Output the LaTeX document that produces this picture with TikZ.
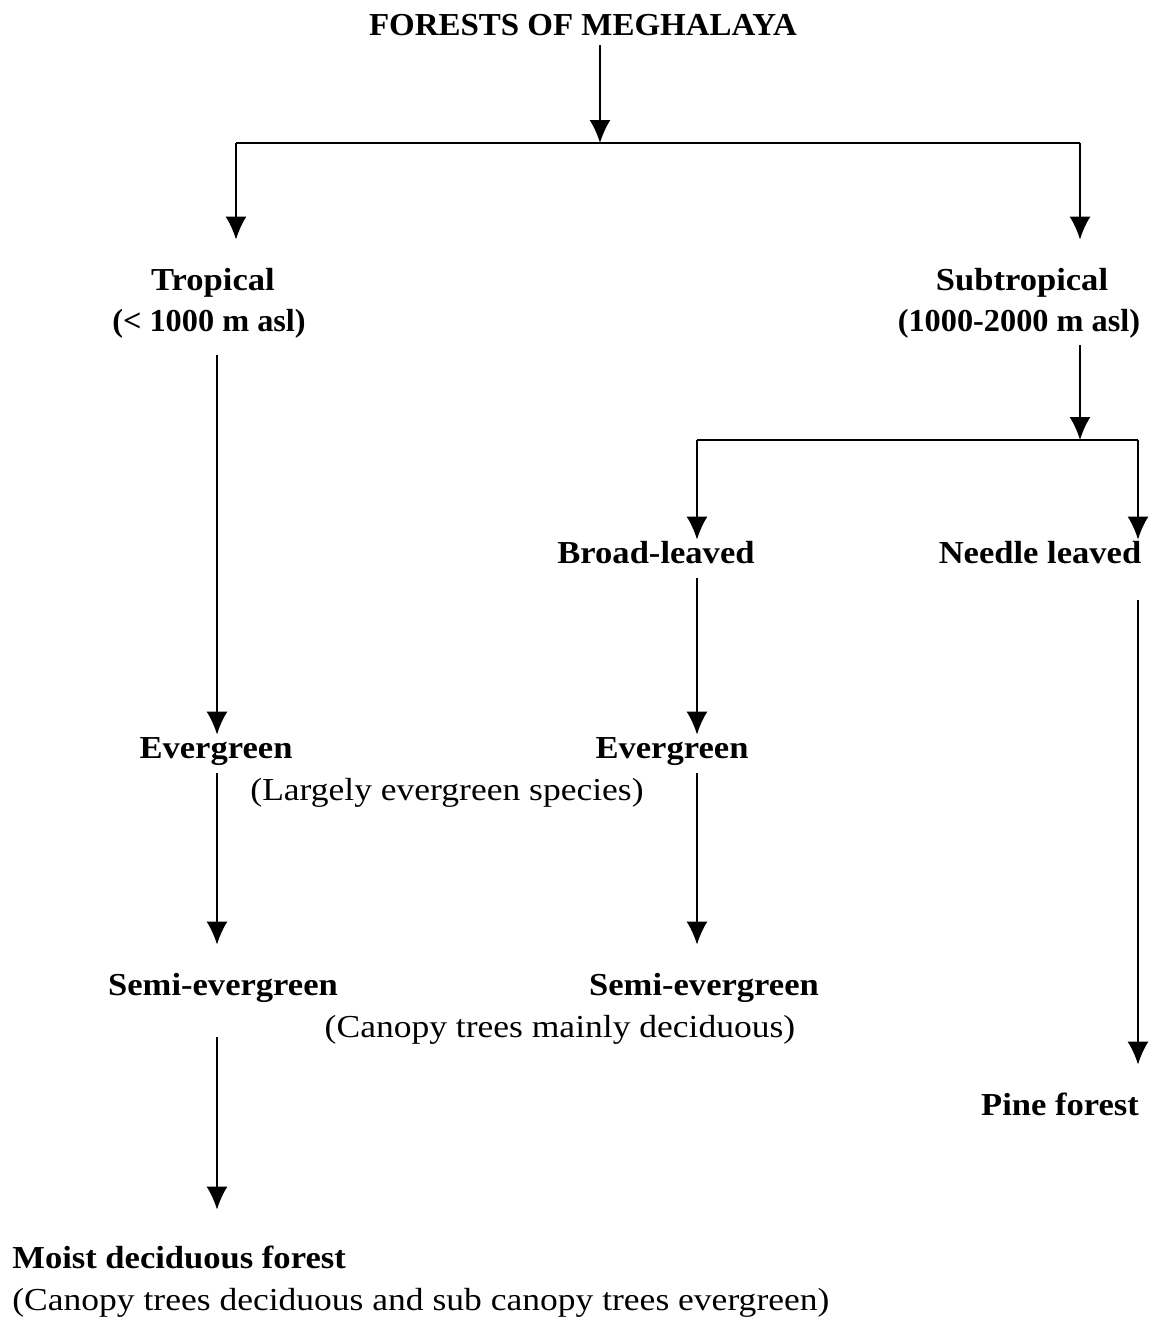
\documentclass[tikz,border=0pt]{standalone}
\usepackage{fontspec}
\setmainfont{Liberation Serif}
\usetikzlibrary{arrows.meta,calc}
\tikzstyle{line} = [draw, line width=1pt, -{Latex[length=11.5pt,width=10.5pt]}]
\tikzstyle{bar} = [draw, line width=1pt]
\tikzstyle{head} = [font=\bfseries\fontsize{16}{19}\selectfont\addfontfeature{FakeStretch=1.08}, inner sep=0pt, text height=11pt, text depth=4pt, anchor=base]
\tikzstyle{alt} = [head, font=\bfseries\fontsize{16}{19}\selectfont\addfontfeature{FakeStretch=1.01}]
\tikzstyle{note} = [font=\fontsize{16}{19}\selectfont\addfontfeature{FakeStretch=1.11}, inner sep=0pt, text height=11pt, text depth=4pt, anchor=base]
\begin{document}
\begin{tikzpicture}[x=0.5pt, y=-0.5pt]
        \useasboundingbox (0,0) rectangle (1155,1319);
        % nodes, placed on their baselines
        \node[head, font=\bfseries\fontsize{16}{19}\selectfont\addfontfeature{FakeStretch=1.03}] (title) at (583,35) {FORESTS OF MEGHALAYA};
        \node[head] (trop1) at (213,290) {Tropical};
        \node[alt] (trop2) at (209,331) {(< 1000 m asl)};
        \node[head] (sub1) at (1022,290) {Subtropical};
        \node[alt] (sub2) at (1019,331) {(1000-2000 m asl)};
        \node[head] (broad) at (656,563) {Broad-leaved};
        \node[head] (needle) at (1040,563) {Needle leaved};
        \node[head] (ever1) at (216,758) {Evergreen};
        \node[head] (ever2) at (672,758) {Evergreen};
        \node[note] (largely) at (447,800) {(Largely evergreen species)};
        \node[head] (semi1) at (223,995) {Semi-evergreen};
        \node[head] (semi2) at (704,995) {Semi-evergreen};
        \node[note] (mainly) at (560,1037) {(Canopy trees mainly deciduous)};
        \node[head] (pine) at (1060,1115) {Pine forest};
        \node[head, anchor=base west] (moist) at (12,1268) {Moist deciduous forest};
        \node[note, anchor=base west] (subcan) at (12,1310) {(Canopy trees deciduous and sub canopy trees evergreen)};
        % splits and columns
        \coordinate (s0) at (600,143);
        \coordinate (sL) at (236,143);
        \coordinate (sR) at (1080,143);
        \coordinate (s1) at (1080,440);
        \coordinate (s1L) at (697,440);
        \coordinate (s1R) at (1138,440);
        \coordinate (cL) at (217,0);
        \coordinate (cM) at (697,0);
        \coordinate (cR) at (1138,0);
        % connectors
        \path[line, shorten <=1pt] (title.south -| s0) -- (s0);
        \path[bar] (sL) -- (sR);
        \path[line, shorten >=14pt] (sL) -- (trop1.north -| sL);
        \path[line, shorten >=14pt] (sR) -- (sub1.north -| sR);
        \path[line, shorten <=8pt, shorten >=0.5pt] (trop2.south -| cL) -- (ever1.north -| cL);
        \path[line, shorten <=3pt] (sub2.south -| s1) -- (s1);
        \path[bar] (s1L) -- (s1R);
        \path[line, shorten >=0.5pt] (s1L) -- (broad.north -| s1L);
        \path[line, shorten >=0.5pt] (s1R) -- (needle.north -| s1R);
        \path[line, shorten <=3.5pt, shorten >=0.5pt] (broad.south -| cM) -- (ever2.north -| cM);
        \path[line, shorten <=3.5pt, shorten >=14pt] (ever1.south -| cL) -- (semi1.north -| cL);
        \path[line, shorten <=3.5pt, shorten >=14pt] (ever2.south -| cM) -- (semi2.north -| cM);
        \path[line, shorten <=17pt, shorten >=18pt] (semi1.south -| cL) -- (moist.north -| cL);
        \path[line, shorten <=14.5pt, shorten >=14pt] (needle.south -| cR) -- (pine.north -| cR);
\end{tikzpicture}
\end{document}
